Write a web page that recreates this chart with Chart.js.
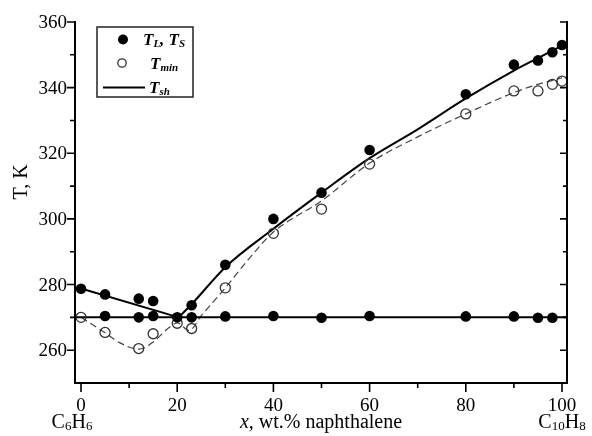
<!DOCTYPE html>
<html><head><meta charset="utf-8">
<script src="https://cdn.jsdelivr.net/npm/chart.js@4/dist/chart.umd.min.js"></script>
<style>html,body{margin:0;padding:0;background:#fff}</style>
</head><body>
<canvas id="c" width="592" height="436"></canvas>
<script>
// ---- data ----
const liquidusX = [0, 5, 12, 15, 23, 30, 40, 50, 60, 80, 90, 95, 98, 100];
const liquidusT = [278.7, 277.0, 275.7, 275.0, 273.7, 286.0, 300.0, 308.0, 321.0, 338.0, 347.0, 348.3, 350.8, 353.0];
const solidusX = [5, 12, 15, 20, 23, 30, 40, 50, 60, 80, 90, 95, 98];
const solidusT = [270.4, 270.0, 270.4, 270.0, 270.0, 270.3, 270.4, 269.9, 270.4, 270.3, 270.3, 269.9, 269.9];
const tminX = [0, 5, 12, 15, 20, 23, 30, 40, 50, 60, 80, 90, 95, 98, 100];
const tminT = [270.0, 265.4, 260.5, 265.0, 268.2, 266.6, 279.0, 295.6, 303.0, 316.7, 332.0, 339.0, 339.0, 341.0, 342.0];
const tshLeftX = [0, 20.3];
const tshLeftT = [278.8, 270.0];
const tshRightX = [20.3, 23, 30, 40, 50, 60, 70, 80, 90, 95, 100];
const tshRightT = [270.0, 274.0, 285.3, 297.0, 308.0, 318.5, 327.3, 336.7, 345.2, 349.0, 352.8];
const fitX = [0, 5, 8, 12, 15, 18, 20, 22.5, 25, 30, 35, 40, 50, 60, 70, 80, 90, 95, 100];
const fitT = [270.0, 265.3, 262.3, 260.3, 262.5, 266.5, 268.3, 266.0, 270.5, 279.0, 288.0, 296.0, 305.5, 317.0, 325.0, 332.0, 338.5, 341.0, 343.0];
const solidusLineT = 270;
const xTickLabels = [0, 20, 40, 60, 80, 100];
const xMinorTicks = [10, 30, 50, 70, 90];
const yTickLabels = [260, 280, 300, 320, 340, 360];
const yMinorTicks = [270, 290, 310, 330, 350];
const X_MIN = -1.25, X_MAX = 101.04, Y_MIN = 250, Y_MAX = 360;

const pts = (xs, ys) => xs.map((x, i) => ({x, y: ys[i]}));
const SERIF = '"Liberation Serif", "Times New Roman", serif';

function drawRuns(ctx, runs, x, y) {
  for (const r of runs) {
    ctx.font = r.font;
    ctx.fillText(r.t, x, y + (r.dy || 0));
    x += ctx.measureText(r.t).width;
  }
  return x;
}
function runsWidth(ctx, runs) {
  let w = 0;
  for (const r of runs) { ctx.font = r.font; w += ctx.measureText(r.t).width; }
  return w;
}

const decor = {
  id: 'decor',
  afterDatasetsDraw(chart) {
    const ctx = chart.ctx, xs = chart.scales.x, ys = chart.scales.y;
    const a = chart.chartArea;
    ctx.save();
    ctx.strokeStyle = '#000'; ctx.fillStyle = '#000';
    ctx.lineWidth = 2; ctx.lineCap = 'butt';
    // axes (left, bottom, right)
    ctx.beginPath();
    ctx.moveTo(a.left, a.top - 1); ctx.lineTo(a.left, a.bottom + 1);
    ctx.moveTo(a.left - 1, a.bottom); ctx.lineTo(a.right + 1, a.bottom);
    ctx.moveTo(a.right, a.top - 1); ctx.lineTo(a.right, a.bottom + 1);
    ctx.stroke();
    ctx.lineWidth = 1.6;
    ctx.beginPath();
    for (const v of yTickLabels) { const p = ys.getPixelForValue(v); ctx.moveTo(a.left, p); ctx.lineTo(a.left - 8, p); ctx.moveTo(a.right, p); ctx.lineTo(a.right - 7, p); }
    for (const v of yMinorTicks) { const p = ys.getPixelForValue(v); ctx.moveTo(a.left, p); ctx.lineTo(a.left - 5, p); ctx.moveTo(a.right, p); ctx.lineTo(a.right - 4, p); }
    for (const v of xTickLabels) { const p = xs.getPixelForValue(v); ctx.moveTo(p, a.bottom); ctx.lineTo(p, a.bottom + 9); }
    for (const v of xMinorTicks) { const p = xs.getPixelForValue(v); ctx.moveTo(p, a.bottom); ctx.lineTo(p, a.bottom + 5); }
    ctx.stroke();
    // tick labels
    ctx.font = '19px ' + SERIF;
    ctx.textAlign = 'right'; ctx.textBaseline = 'middle';
    for (const v of yTickLabels) ctx.fillText(String(v), a.left - 8, ys.getPixelForValue(v) + 1);
    ctx.textAlign = 'center'; ctx.textBaseline = 'alphabetic';
    for (const v of xTickLabels) ctx.fillText(String(v), xs.getPixelForValue(v), a.bottom + 28);
    // compound labels
    ctx.textAlign = 'left';
    const big = '20px ' + SERIF, sub = '13px ' + SERIF;
    const c6 = [{t: 'C', font: big}, {t: '6', font: sub, dy: 2}, {t: 'H', font: big}, {t: '6', font: sub, dy: 2}];
    const c10 = [{t: 'C', font: big}, {t: '10', font: sub, dy: 2}, {t: 'H', font: big}, {t: '8', font: sub, dy: 2}];
    let cx = xs.getPixelForValue(0) - 9;
    drawRuns(ctx, c6, cx - runsWidth(ctx, c6) / 2, 428);
    cx = xs.getPixelForValue(100);
    drawRuns(ctx, c10, cx - runsWidth(ctx, c10) / 2, 428);
    // x title
    const xt = [{t: 'x', font: 'italic 20px ' + SERIF}, {t: ', wt.% naphthalene', font: '20px ' + SERIF}];
    const mid = (a.left + a.right) / 2;
    drawRuns(ctx, xt, mid - runsWidth(ctx, xt) / 2, 428);
    // y title
    ctx.save();
    ctx.translate(27, 182); ctx.rotate(-Math.PI / 2);
    ctx.font = '20px ' + SERIF; ctx.textAlign = 'center';
    ctx.fillText('T, K', 0, 0);
    ctx.restore();
    // legend
    ctx.lineWidth = 1.5; ctx.strokeStyle = '#222';
    ctx.strokeRect(97, 27, 96, 70);
    ctx.fillStyle = '#000';
    ctx.beginPath(); ctx.arc(123, 39.5, 5, 0, Math.PI * 2); ctx.fill();
    ctx.strokeStyle = '#333'; ctx.lineWidth = 1.3;
    ctx.beginPath(); ctx.arc(122, 63, 4.2, 0, Math.PI * 2); ctx.stroke();
    ctx.strokeStyle = '#000'; ctx.lineWidth = 2.2;
    ctx.beginPath(); ctx.moveTo(103, 87.5); ctx.lineTo(145, 87.5); ctx.stroke();
    const LT = 'italic bold 17px ' + SERIF, LS = 'italic bold 11px ' + SERIF;
    ctx.textAlign = 'left';
    drawRuns(ctx, [{t: 'T', font: LT}, {t: 'L', font: LS, dy: 2}, {t: ', ', font: LT}, {t: 'T', font: LT}, {t: 'S', font: LS, dy: 2}], 143, 45);
    drawRuns(ctx, [{t: 'T', font: LT}, {t: 'min', font: LS, dy: 2}], 150, 68.5);
    drawRuns(ctx, [{t: 'T', font: LT}, {t: 'sh', font: LS, dy: 2}], 149, 92.5);
    ctx.restore();
  }
};

new Chart(document.getElementById('c'), {
  type: 'scatter',
  data: {
    datasets: [
      {label: 'TL', data: pts(liquidusX, liquidusT), pointRadius: 5.3, pointBackgroundColor: '#000', pointBorderColor: '#000', pointBorderWidth: 0, showLine: false, order: 0},
      {label: 'TS', data: pts(solidusX, solidusT), pointRadius: 5.3, pointBackgroundColor: '#000', pointBorderColor: '#000', pointBorderWidth: 0, showLine: false, order: 0},
      {label: 'Tmin', data: pts(tminX, tminT), pointRadius: 5, pointBackgroundColor: 'rgba(0,0,0,0)', pointBorderColor: '#333', pointBorderWidth: 1.3, showLine: false, order: 1},
      {label: 'Tsh left', data: pts(tshLeftX, tshLeftT), showLine: true, borderColor: '#000', borderWidth: 2, pointRadius: 0, order: 2},
      {label: 'Tsh right', data: pts(tshRightX, tshRightT), showLine: true, borderColor: '#000', borderWidth: 2, pointRadius: 0, cubicInterpolationMode: 'monotone', order: 2},
      {label: 'solidus', data: [{x: X_MIN, y: solidusLineT}, {x: X_MAX, y: solidusLineT}], showLine: true, borderColor: '#000', borderWidth: 2, pointRadius: 0, order: 2},
      {label: 'fit', data: pts(fitX, fitT), showLine: true, borderColor: '#444', borderWidth: 1.2, borderDash: [7, 4], pointRadius: 0, cubicInterpolationMode: 'monotone', order: 3}
    ]
  },
  options: {
    responsive: false, animation: false, devicePixelRatio: 1,
    layout: {padding: {left: 75, right: 25, top: 22, bottom: 53}},
    plugins: {legend: {display: false}, tooltip: {enabled: false}},
    scales: {
      x: {type: 'linear', min: X_MIN, max: X_MAX, display: false},
      y: {type: 'linear', min: Y_MIN, max: Y_MAX, display: false}
    }
  },
  plugins: [decor]
});
</script>
</body></html>
